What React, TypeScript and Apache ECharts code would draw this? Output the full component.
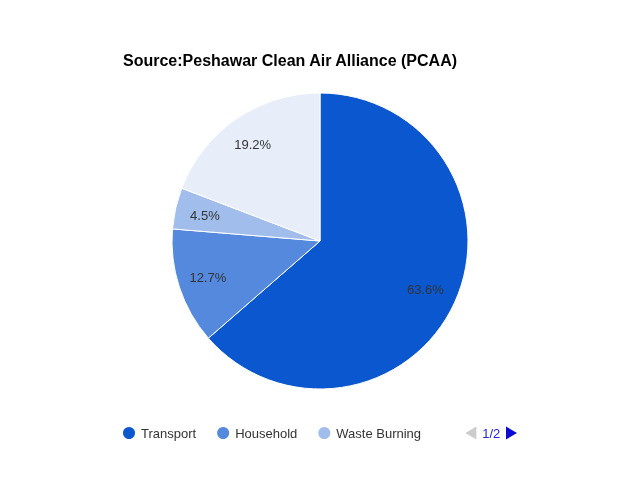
import * as echarts from 'echarts'
import React, { useEffect, useRef } from 'react'

const categories = ['Transport', 'Household', 'Waste Burning', 'Industrial Emissions']
const shares = [63.6, 12.7, 4.5, 19.2]
const colors = ['#0b57d0', '#5589de', '#a1bdec', '#e8eef9']

export default function App() {
  const chartRef = useRef<HTMLDivElement>(null)

  useEffect(() => {
    const chart = echarts.init(chartRef.current, undefined, { renderer: 'svg' })

    const data = categories.map((name, i) => ({ name, value: shares[i] }))

    chart.setOption({
      animation: false,
      color: colors,
      textStyle: { fontFamily: 'Arial, "Liberation Sans", sans-serif' },
      title: {
        text: 'Source:Peshawar Clean Air Alliance (PCAA)',
        left: 123,
        top: 52,
        padding: 0,
        textStyle: { fontSize: 16, fontWeight: 'bold', color: '#000' },
      },
      legend: {
        type: 'scroll',
        orient: 'horizontal',
        left: 121,
        top: 424,
        width: 396,
        padding: 0,
        itemGap: 19,
        itemWidth: 14,
        itemHeight: 14,
        icon: 'circle',
        data: categories,
        textStyle: { fontSize: 13, color: '#333', lineHeight: 18 },
        pageIcons: {
          horizontal: ['path://M0,0L11,-6.5L11,6.5z', 'path://M0,-6.5L11,0L0,6.5z'],
        },
        pageIconColor: '#0a0ad6',
        pageIconInactiveColor: '#cccccc',
        pageIconSize: [11, 13],
        pageButtonItemGap: 0,
        pageButtonGap: 32,
        pageTextStyle: { color: '#2525d6', fontSize: 13 },
      },
      series: [
        {
          name: 'Sources',
          type: 'pie',
          center: [320, 241],
          radius: [0, 148],
          startAngle: 90,
          clockwise: true,
          data,
          label: { show: false },
          labelLine: { show: false },
          itemStyle: { borderColor: '#fff', borderWidth: 1 },
          emphasis: { disabled: true },
        },
        {
          name: 'Labels',
          type: 'pie',
          center: [319, 241],
          radius: [80, 148],
          startAngle: 90,
          clockwise: true,
          silent: true,
          data,
          itemStyle: { color: 'rgba(0,0,0,0)' },
          label: {
            show: true,
            position: 'inside',
            formatter: (p: any) => p.value.toFixed(1) + '%',
            fontSize: 13,
            color: '#333',
          },
          labelLine: { show: false },
          emphasis: { disabled: true },
        },
      ],
    })

    return () => {
      chart.dispose()
    }
  }, [])

  return (
    <div
      ref={chartRef}
      style={{ position: 'fixed', left: 0, top: 0, width: '640px', height: '480px' }}
    />
  )
}
